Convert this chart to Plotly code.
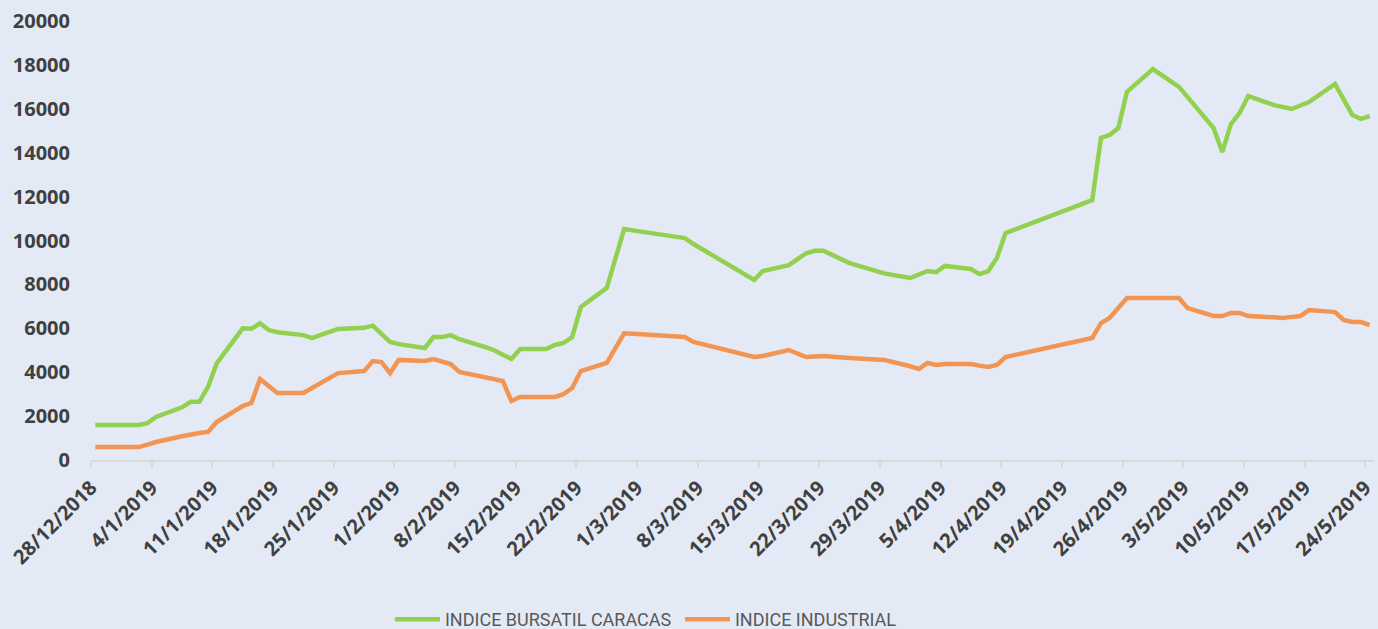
import pandas as pd
import plotly.graph_objects as go

dates = [
    "2018-12-28", "2018-12-31", "2019-01-02", "2019-01-03", "2019-01-04",
    "2019-01-07", "2019-01-08", "2019-01-09", "2019-01-10", "2019-01-11",
    "2019-01-14", "2019-01-15", "2019-01-16", "2019-01-17", "2019-01-18",
    "2019-01-21", "2019-01-22", "2019-01-23", "2019-01-24", "2019-01-25",
    "2019-01-28", "2019-01-29", "2019-01-30", "2019-01-31", "2019-02-01",
    "2019-02-04", "2019-02-05", "2019-02-06", "2019-02-07", "2019-02-08",
    "2019-02-11", "2019-02-12", "2019-02-13", "2019-02-14", "2019-02-15",
    "2019-02-18", "2019-02-19", "2019-02-20", "2019-02-21", "2019-02-22",
    "2019-02-25", "2019-02-26", "2019-02-27", "2019-02-28", "2019-03-01",
    "2019-03-06", "2019-03-07", "2019-03-14", "2019-03-15",
    "2019-03-18", "2019-03-19", "2019-03-20", "2019-03-21", "2019-03-22",
    "2019-03-25", "2019-03-29", "2019-04-01", "2019-04-02", "2019-04-03",
    "2019-04-04", "2019-04-05", "2019-04-08", "2019-04-09", "2019-04-10",
    "2019-04-11", "2019-04-12", "2019-04-22", "2019-04-23", "2019-04-24",
    "2019-04-25", "2019-04-26", "2019-04-29", "2019-04-30", "2019-05-02",
    "2019-05-03", "2019-05-06", "2019-05-07", "2019-05-08", "2019-05-09",
    "2019-05-10", "2019-05-13", "2019-05-14", "2019-05-15", "2019-05-16",
    "2019-05-17", "2019-05-20", "2019-05-21", "2019-05-22", "2019-05-23",
    "2019-05-24",
]

ibc = [
    1594, 1594, 1600, 1680, 1960,
    2400, 2650, 2650, 3330, 4400,
    6000, 5980, 6230, 5920, 5820,
    5690, 5550, 5700, 5840, 5970,
    6020, 6120, 5750, 5380, 5280,
    5100, 5600, 5600, 5690, 5500,
    5140, 5000, 4800, 4600, 5060,
    5060, 5240, 5330, 5600, 6970,
    7840, 9200, 10520, 10460, 10400,
    10110, 9840, 8200, 8610,
    8880, 9150, 9420, 9530, 9530,
    8970, 8500, 8290, 8470, 8610,
    8560, 8840, 8700, 8470, 8610,
    9200, 10340, 11840, 14670, 14810,
    15120, 16770, 17810, 17520, 17000,
    16530, 15120, 14030, 15310, 15810,
    16580, 16170, 16080, 15990, 16150,
    16310, 17130, 16400, 15720, 15540,
    15670,
]

industrial = [
    590, 590, 590, 700, 820,
    1080, 1180, 1230, 1280, 1730,
    2460, 2600, 3690, 3340, 3050,
    3050, 3280, 3530, 3780, 3960,
    4050, 4510, 4460, 3960, 4560,
    4510, 4600, 4480, 4370, 4010,
    3750, 3680, 3600, 2690, 2870,
    2870, 2870, 3000, 3280, 4050,
    4420, 5100, 5770, 5750, 5730,
    5600, 5380, 4690, 4740,
    5010, 4850, 4690, 4720, 4740,
    4650, 4560, 4270, 4150, 4420,
    4330, 4370, 4370, 4300, 4240,
    4330, 4690, 5560, 6240, 6470,
    6920, 7380, 7380, 7380, 7380,
    6920, 6560, 6560, 6700, 6700,
    6560, 6500, 6470, 6520, 6560,
    6830, 6740, 6380, 6290, 6290,
    6150,
]

tick_dates = [
    "2018-12-28", "2019-01-04", "2019-01-11", "2019-01-18", "2019-01-25",
    "2019-02-01", "2019-02-08", "2019-02-15", "2019-02-22", "2019-03-01",
    "2019-03-08", "2019-03-15", "2019-03-22", "2019-03-29", "2019-04-05",
    "2019-04-12", "2019-04-19", "2019-04-26", "2019-05-03", "2019-05-10",
    "2019-05-17", "2019-05-24",
]
tick_labels = [
    "28/12/2018", "4/1/2019", "11/1/2019", "18/1/2019", "25/1/2019",
    "1/2/2019", "8/2/2019", "15/2/2019", "22/2/2019", "1/3/2019",
    "8/3/2019", "15/3/2019", "22/3/2019", "29/3/2019", "5/4/2019",
    "12/4/2019", "19/4/2019", "26/4/2019", "3/5/2019", "10/5/2019",
    "17/5/2019", "24/5/2019",
]

y_ticks = [0, 2000, 4000, 6000, 8000, 10000, 12000, 14000, 16000, 18000, 20000]

# points sit in the middle of each day slot (date axis, between tick marks)
x = pd.to_datetime(dates) + pd.Timedelta(hours=12)

GREEN = "#92D050"
ORANGE = "#F39552"
TEXT = "#404040"
BG = "#E4EAF5"

fig = go.Figure()
fig.add_trace(go.Scatter(
    x=x, y=ibc, mode="lines", name="INDICE BURSATIL CARACAS",
    line=dict(color=GREEN, width=4.5),
))
fig.add_trace(go.Scatter(
    x=x, y=industrial, mode="lines", name="INDICE INDUSTRIAL",
    line=dict(color=ORANGE, width=4.5),
))

fig.update_layout(
    width=1378, height=629,
    margin=dict(l=91, r=1, t=21, b=169),
    paper_bgcolor=BG, plot_bgcolor=BG,
    font=dict(family="Open Sans, Liberation Sans, sans-serif", color=TEXT),
    showlegend=True,
    legend=dict(
        orientation="h", xref="container", yref="container",
        x=0.283, xanchor="left", y=0.015, yanchor="middle",
        font=dict(family="Roboto, sans-serif", size=18, color="#595959"),
        bgcolor="rgba(0,0,0,0)", itemwidth=45,
        entrywidth=230, entrywidthmode="pixels",
    ),
)

fig.update_xaxes(
    type="date",
    range=[pd.Timestamp("2018-12-28"), pd.Timestamp("2019-05-25")],
    tickvals=pd.to_datetime(tick_dates), ticktext=tick_labels,
    tickangle=-45,
    tickfont=dict(size=20, color=TEXT, family="Open Sans, sans-serif", weight="bold"),
    ticklabeloverflow="allow",
    showline=True, linecolor="#D9D9D9", linewidth=2,
    ticks="outside", ticklen=6, tickcolor="#D9D9D9", tickwidth=2,
    showgrid=False, zeroline=False,
)
fig.update_yaxes(
    range=[0, 20000],
    tickvals=y_ticks, ticktext=[str(v) for v in y_ticks],
    tickfont=dict(size=20, color=TEXT, family="Open Sans, sans-serif", weight="bold"),
    showgrid=False, zeroline=False, showline=False, ticks="",
    ticklabelstandoff=20,
)

fig.write_html(
    "out.html",
    config={"displayModeBar": False},
    post_script="document.body.style.margin='0px';document.body.style.overflow='hidden';",
)
